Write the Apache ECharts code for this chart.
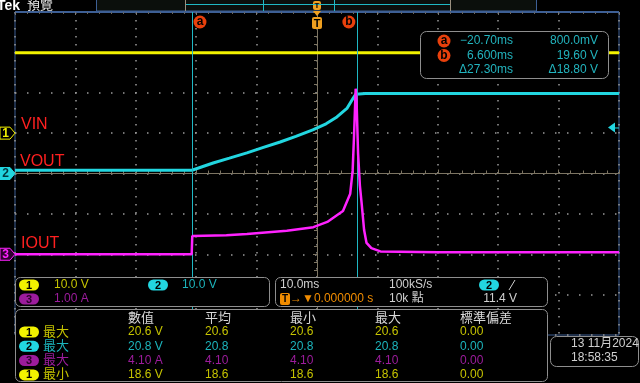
<!DOCTYPE html>
<html><head><meta charset="utf-8">
<script src="https://cdn.jsdelivr.net/npm/echarts@6/dist/echarts.min.js"></script>
<style>html,body{margin:0;padding:0;background:#000;overflow:hidden}#c{width:640px;height:383px}</style>
</head><body><div id="c"></div><script>
// ---- data (time in ms, 10 ms/div) ----
const vinTime  = [-50, 50];
const vinVolts = [19.9, 19.9];
const voutTime  = [-50, -20.7, -17.2, -14.5, -11.6, -9, -6.1, -3.5, -0.7, 1.5, 3.3, 5.0, 6.0, 6.4, 6.6, 8, 50];
const voutVolts = [0.8, 0.8, 2.6, 3.8, 5.1, 6.4, 7.8, 9.2, 10.8, 12.3, 14.0, 16.2, 18.7, 19.6, 19.8, 19.8, 19.8];
const ioutTime = [-50, -20.75, -20.65, -15, -11.6, -5, -0.6, 1.7, 4.3, 5.5, 5.9, 6.15, 6.4, 6.55, 6.8, 7.1, 7.4, 7.8, 8.2, 9.0, 10.5, 20, 50];
const ioutAmps = [0.0, 0.0, 0.45, 0.47, 0.5, 0.58, 0.67, 0.8, 1.07, 1.5, 2.07, 3.0, 4.1, 3.8, 2.5, 1.7, 1.25, 0.6, 0.28, 0.15, 0.07, 0.05, 0.05];
const cursorTimes = [-20.7, 6.6];
const cursorNames = ['a', 'b'];
const triggerLevel = 11.4;
const traceLabels = ['VIN', 'VOUT', 'IOUT'];
const cursorRows = [['−20.70ms', '800.0mV'], ['6.600ms', '19.60 V'], ['Δ27.30ms', 'Δ18.80 V']];
const measHeaders = ['數值', '平均', '最小', '最大', '標準偏差'];
const measCh = ['1', '2', '3', '1'];
const measType = ['最大', '最大', '最大', '最小'];
const measVals = [
  ['20.6 V', '20.6', '20.6', '20.6', '0.00'],
  ['20.8 V', '20.8', '20.8', '20.8', '0.00'],
  ['4.10 A', '4.10', '4.10', '4.10', '0.00'],
  ['18.6 V', '18.6', '18.6', '18.6', '0.00']
];

const zip = (a, b) => a.map((v, i) => [v, b[i]]);
const YEL = '#f2f200', CYA = '#22d6e0', MAG = '#ff22ff';
const tYEL = '#c6c400', tCYA = '#1cb4bc', tMAG = '#9c1c9c';
const TAN = '#7d7563', BLU = '#3d5f95', DOT = '#9a9a9a';
const FONT = '"Liberation Sans","Noto Sans CJK TC",sans-serif';

const chart = echarts.init(document.getElementById('c'));
chart.setOption({
  backgroundColor: '#000',
  animation: false,
  grid: { left: 15, top: 12, width: 604, height: 323, show: true, borderColor: BLU, borderWidth: 1, backgroundColor: '#000' },
  xAxis: [
    { type: 'value', min: -50, max: 50, interval: 10,
      axisLabel: { show: false },
      axisLine: { show: true, onZero: true, onZeroAxisIndex: 1, lineStyle: { color: TAN } },
      axisTick: { show: true, inside: true, length: 4, lineStyle: { color: TAN } },
      minorTick: { show: true, splitNumber: 5, length: 3, lineStyle: { color: TAN } },
      splitLine: { show: true, lineStyle: { color: DOT, type: [1.5, 6.5], width: 1.5 } } },
    { type: 'value', min: -50, max: 50, interval: 10, position: 'top',
      axisLabel: { show: false },
      axisLine: { show: true, onZero: false, lineStyle: { color: BLU } },
      axisTick: { show: true, inside: true, length: 3, lineStyle: { color: '#777' } },
      minorTick: { show: true, splitNumber: 5, length: 2, lineStyle: { color: '#666' } },
      splitLine: { show: false } }
  ],
  yAxis: [
    { type: 'value', min: -50, max: 30, interval: 10, show: false },
    { type: 'value', min: -40, max: 40, interval: 10,
      axisLabel: { show: false },
      axisLine: { show: true, onZero: true, onZeroAxisIndex: 0, lineStyle: { color: TAN } },
      axisTick: { show: true, inside: true, length: 4, lineStyle: { color: TAN } },
      minorTick: { show: true, splitNumber: 5, length: 3, lineStyle: { color: TAN } },
      splitLine: { show: true, lineStyle: { color: DOT, type: [1.5, 10.5], width: 1.5 } } },
    { type: 'value', min: -2, max: 6, interval: 1, show: false }
  ],
  series: [
    { name: 'VIN', type: 'line', xAxisIndex: 0, yAxisIndex: 0, data: zip(vinTime, vinVolts), showSymbol: false,
      lineStyle: { color: YEL, width: 3 }, z: 3 },
    { name: 'VOUT', type: 'line', xAxisIndex: 0, yAxisIndex: 1, data: zip(voutTime, voutVolts), showSymbol: false,
      lineStyle: { color: CYA, width: 3 }, z: 4,
      markLine: { silent: true, symbol: 'none', label: { show: false },
        lineStyle: { color: '#1fb8c4', type: 'solid', width: 1 },
        data: cursorTimes.map(t => ({ xAxis: t })) } },
    { name: 'IOUT', type: 'line', xAxisIndex: 0, yAxisIndex: 2, data: zip(ioutTime, ioutAmps), showSymbol: false,
      lineStyle: { color: MAG, width: 2.5 }, z: 5 }
  ]
});

// ---- overlay graphics ----
const px = v => chart.convertToPixel({ xAxisIndex: 0 }, v);
const py = (i, v) => chart.convertToPixel({ yAxisIndex: i }, v);
const G = [];
const R = (x, y, w, h, o) => G.push({ type: 'rect', silent: true, z: 100, shape: { x, y, width: w, height: h, r: o.r || 0 },
  style: { fill: o.fill || '#000', stroke: o.stroke || null, lineWidth: 1 } });
const T = (x, y, text, fill, size, align, weight) => G.push({ type: 'text', silent: true, z: 102, x, y,
  style: { text, fill, font: (weight || 'normal') + ' ' + size + 'px ' + FONT, align: align || 'left', verticalAlign: 'middle' } });
const L = (x1, y1, x2, y2, c) => G.push({ type: 'line', silent: true, z: 101, shape: { x1, y1, x2, y2 }, style: { stroke: c, lineWidth: 1 } });
const B = (x, y, w, label, bg, fg) => { R(x, y - 5.5, w, 11, { r: 5.5, fill: bg }); T(x + w / 2, y + 0.5, label, fg, 11, 'center', 'bold'); };
const C = (cx, cy, label) => { G.push({ type: 'circle', silent: true, z: 101, shape: { cx, cy, r: 6.5 }, style: { fill: '#e8400c' } });
  T(cx, cy, label, '#000', 12, 'center', 'bold'); };

// top bar
T(-3, 6, 'Tek', '#fff', 14, 'left', 'bold');
T(27, 5.5, '預覽', '#e8e8e8', 13);
R(96.5, -1, 440, 12, { fill: '#0b0f0c', stroke: BLU });
L(185.5, 0, 185.5, 11, '#9a9080');
L(450.5, 0, 450.5, 11, '#9a9080');
L(186, 4.5, 450, 4.5, '#1fb8c4');
L(263.5, 0, 263.5, 11, '#1fb8c4');
L(334.5, 0, 334.5, 11, '#1fb8c4');
L(15, 11.5, 619, 11.5, BLU);

// trigger position marker
const tx = px(0);
R(tx - 4, 1, 8, 9, { r: 2, fill: '#f0a020' });
T(tx, 5.5, 'T', '#000', 8, 'center', 'bold');
G.push({ type: 'polygon', silent: true, z: 101, shape: { points: [[tx - 4, 11], [tx + 4, 11], [tx, 16]] }, style: { fill: '#f0a020' } });
R(tx - 5, 17, 10, 12, { r: 2, fill: '#f0a020' });
T(tx, 23.5, 'T', '#000', 11, 'center', 'bold');

// cursor badges
cursorTimes.forEach((t, i) => C(px(t) + (i === 0 ? 8 : -8), 22, cursorNames[i]));

// cursor readout box
R(420.5, 31.5, 188, 47, { r: 6, fill: '#000', stroke: '#8e8e8e' });
cursorRows.forEach((row, i) => {
  const y = 41 + i * 14.5;
  if (i < 2) C(444, y, cursorNames[i]);
  T(513, y, row[0], '#22b4be', 12, 'right');
  T(598, y, row[1], '#22b4be', 12, 'right');
});

// channel ground markers
const markerY = [py(0, 0), py(1, 0), py(2, 0)];
const mk = (y, fill, stroke, label, fg) => {
  G.push({ type: 'polygon', silent: true, z: 101, shape: { points: [[0, y - 6], [10, y - 6], [15, y], [10, y + 6], [0, y + 6]] },
    style: { fill, stroke, lineWidth: 1 } });
  T(5.5, y + 0.5, label, fg, 12, 'center', 'bold');
};
mk(markerY[0], '#000', YEL, '1', YEL);
mk(markerY[1], CYA, CYA, '2', '#003a40');
mk(markerY[2], '#300030', MAG, '3', MAG);

// trace labels
T(21, markerY[0] - 9, traceLabels[0], '#ff2020', 16);
T(20, markerY[1] - 12, traceLabels[1], '#ff2020', 16);
T(21, markerY[2] - 11, traceLabels[2], '#ff2020', 16);

// trigger level arrow
const ty = py(1, triggerLevel);
G.push({ type: 'polygon', silent: true, z: 101, shape: { points: [[608, ty], [615, ty - 5], [615, ty + 5]] }, style: { fill: CYA } });
L(615, ty + 0.5, 619, ty + 0.5, CYA);

// channel panel
R(15.5, 277.5, 254, 29, { r: 5, fill: '#000', stroke: '#8e8e8e' });
B(19, 285, 20, '1', YEL, '#000'); T(54, 285, '10.0 V', tYEL, 12);
B(148, 285, 20, '2', CYA, '#000'); T(182, 285, '10.0 V', tCYA, 12);
B(19, 299, 20, '3', tMAG, '#2a002a'); T(54, 299, '1.00 A', tMAG, 12);

// horizontal panel
R(275.5, 277.5, 272, 29, { r: 5, fill: '#000', stroke: '#8e8e8e' });
T(280, 285, '10.0ms', '#d0d0d0', 12);
T(389, 285, '100kS/s', '#d0d0d0', 12);
B(479, 285, 20, '2', CYA, '#000');
L(509, 290, 515, 280, '#d0d0d0');
R(280, 293, 10, 12, { r: 2, fill: '#f08c00' }); T(285, 299.5, 'T', '#000', 10, 'center', 'bold');
T(290, 299, '→▼0.000000 s', '#f08c00', 12);
T(389, 299, '10k 點', '#d0d0d0', 12);
T(517, 299, '11.4 V', '#d0d0d0', 12, 'right');

// measurement panel
R(15.5, 309.5, 532, 72, { r: 5, fill: '#000', stroke: '#8e8e8e' });
const colX = [128, 205, 290, 375, 460];
measHeaders.forEach((h, i) => T(colX[i], 318, h, '#d8d8d8', 13));
const chBg = { '1': YEL, '2': CYA, '3': tMAG };
const chTx = { '1': tYEL, '2': tCYA, '3': tMAG };
const chFg = { '1': '#000', '2': '#000', '3': '#2a002a' };
measVals.forEach((row, r) => {
  const y = 332 + r * 14.3;
  const ch = measCh[r];
  B(19, y, 20, ch, chBg[ch], chFg[ch]);
  T(43, y, measType[r], chTx[ch], 13);
  row.forEach((v, i) => T(colX[i], y, v, chTx[ch], 12));
});

// date panel
R(550.5, 336.5, 88, 30, { r: 6, fill: '#000', stroke: '#8e8e8e' });
T(571, 344, '13 11月2024', '#d0d0d0', 12);
T(571, 358, '18:58:35', '#d0d0d0', 12);

chart.setOption({ graphic: { elements: G } });
</script></body></html>
